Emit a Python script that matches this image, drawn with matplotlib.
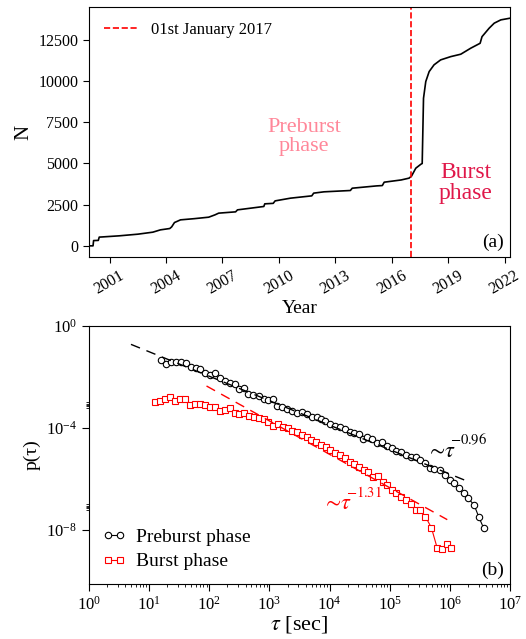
import numpy as np
import matplotlib
matplotlib.use("Agg")
import matplotlib.pyplot as plt
from matplotlib.ticker import LogLocator, FixedLocator, LogFormatterMathtext, NullFormatter

plt.rcParams['font.family'] = ['Liberation Serif', 'DejaVu Serif']
plt.rcParams['mathtext.fontset'] = 'stix'

# ---------------- Panel (a) data: cumulative count N vs year ----------------
years_a = [1999.9, 2000.12, 2000.15, 2000.40, 2000.45, 2000.6, 2001.5, 2002.5, 2003.3, 2003.7,
           2004.2, 2004.3, 2004.45, 2004.77, 2005.5, 2006.27, 2006.6, 2006.8, 2007.7, 2007.8,
           2008.76, 2009.2, 2009.25, 2009.7, 2009.8, 2010.62, 2011.75, 2011.85, 2012.4, 2013.8,
           2013.9, 2015.2, 2015.5, 2015.6, 2016.5, 2016.92, 2017.05, 2017.28, 2017.55, 2017.62,
           2017.69, 2017.81, 2017.99, 2018.25, 2018.6, 2019.14, 2019.67, 2020.2, 2020.7, 2020.8,
           2021.18, 2021.45, 2021.8, 2022.28]
N_a = [0, 0, 320, 330, 530, 540, 607, 708, 830, 970,
       1052, 1150, 1415, 1578, 1650, 1740, 1880, 1985, 2064, 2185,
       2325, 2390, 2550, 2580, 2730, 2895, 3035, 3200, 3280, 3360,
       3500, 3640, 3660, 3865, 4000, 4110, 4230, 4715, 4955, 5000,
       8960, 9975, 10580, 10990, 11290, 11490, 11635, 12000, 12300, 12700,
       13215, 13520, 13720, 13820]
year_ticks = [2001, 2004, 2007, 2010, 2013, 2016, 2019, 2022]
burst_start = 2017.0

# ---------------- Panel (b) data: waiting time distributions ----------------
log_tau_pre = [1.198, 1.281, 1.359, 1.442, 1.531, 1.608, 1.692, 1.775, 1.852, 1.930,
               2.013, 2.097, 2.180, 2.263, 2.346, 2.429, 2.501, 2.585, 2.651, 2.734,
               2.818, 2.901, 2.984, 3.056, 3.123, 3.206, 3.289, 3.372, 3.455, 3.539,
               3.622, 3.705, 3.788, 3.855, 3.927, 4.010, 4.093, 4.176, 4.249, 4.332,
               4.409, 4.481, 4.554, 4.620, 4.703, 4.786, 4.870, 4.953, 5.036, 5.108,
               5.191, 5.275, 5.352, 5.435, 5.507, 5.591, 5.674, 5.740, 5.829, 5.912,
               5.996, 6.073, 6.145, 6.229, 6.301, 6.400, 6.480, 6.560]
log_p_pre = [-1.333, -1.503, -1.399, -1.425, -1.425, -1.438, -1.595, -1.660, -1.686, -1.856,
             -1.922, -1.856, -2.052, -2.157, -2.248, -2.288, -2.484, -2.444, -2.680, -2.706,
             -2.745, -2.876, -2.902, -2.876, -3.137, -3.190, -3.255, -3.320, -3.399, -3.359,
             -3.451, -3.556, -3.582, -3.634, -3.712, -3.843, -3.922, -3.974, -4.052, -4.144,
             -4.209, -4.248, -4.444, -4.340, -4.444, -4.575, -4.536, -4.706, -4.797, -4.889,
             -4.928, -5.059, -5.150, -5.124, -5.255, -5.386, -5.582, -5.621, -5.647, -5.843,
             -6.039, -6.170, -6.366, -6.562, -6.758, -7.020, -7.503, -7.935]

log_tau_burst = [1.098, 1.181, 1.265, 1.348, 1.431, 1.514, 1.597, 1.681, 1.764, 1.847,
                 1.930, 2.013, 2.097, 2.180, 2.263, 2.346, 2.429, 2.501, 2.585, 2.668,
                 2.745, 2.829, 2.901, 2.984, 3.056, 3.139, 3.217, 3.300, 3.378, 3.455,
                 3.539, 3.622, 3.694, 3.777, 3.855, 3.932, 4.010, 4.093, 4.176, 4.249,
                 4.332, 4.409, 4.481, 4.565, 4.637, 4.720, 4.803, 4.881, 4.953, 5.036,
                 5.108, 5.191, 5.275, 5.352, 5.435, 5.507, 5.591, 5.690, 5.785, 5.868,
                 5.951, 6.023]
log_p_burst = [-2.993, -2.928, -2.863, -2.771, -2.941, -2.863, -2.863, -3.098, -3.072, -3.072,
               -3.098, -3.190, -3.163, -3.320, -3.294, -3.229, -3.399, -3.451, -3.425, -3.529,
               -3.556, -3.621, -3.660, -3.752, -3.922, -3.843, -3.974, -4.013, -4.118, -4.144,
               -4.275, -4.366, -4.471, -4.536, -4.667, -4.732, -4.863, -4.967, -5.059, -5.190,
               -5.320, -5.425, -5.516, -5.647, -5.739, -5.908, -5.882, -6.105, -6.235, -6.431,
               -6.536, -6.693, -6.824, -6.980, -7.216, -7.216, -7.477, -7.908, -8.693, -8.745,
               -8.549, -8.719]

# power-law fits (exponent, prefactor, tau range)
exp_pre, amp_pre, fit_range_pre = -0.96, 0.885, (5.0, 2.0e6)
exp_burst, amp_burst, fit_range_burst = -1.31, 1.6, (9.0e1, 9.0e5)

# ---------------- Figure ----------------
fig = plt.figure(figsize=(5.26, 6.39), dpi=100)

# Panel (a)
ax1 = fig.add_axes([0.169, 0.598, 0.801, 0.391])
ax1.plot(years_a, N_a, color='black', lw=1.2)
ax1.axvline(burst_start, color='red', ls='--', lw=1.2, label='01st January 2017')
ax1.set_xlim(1999.9, 2022.3)
ax1.set_ylim(-670, 14500)
ax1.set_xticks(year_ticks)
ax1.set_yticks([0, 2500, 5000, 7500, 10000, 12500])
ax1.tick_params(axis='x', labelsize=11.5, rotation=30, direction='out', length=4)
ax1.tick_params(axis='y', labelsize=11.5, direction='out', length=4)
for lab in ax1.get_xticklabels():
    lab.set_ha('center')
ax1.set_xlabel('Year', fontsize=14, labelpad=2)
ax1.set_ylabel('N', fontsize=15, labelpad=4)
ax1.text(2011.35, 6600, 'Preburst\nphase', color='#ff8799', fontsize=16,
         ha='center', va='center', linespacing=1.0)
ax1.text(2019.95, 3800, 'Burst\nphase', color='#e0184a', fontsize=17,
         ha='center', va='center', linespacing=1.0)
ax1.text(0.985, 0.025, '(a)', transform=ax1.transAxes, fontsize=14, ha='right', va='bottom')
ax1.legend(loc='upper left', frameon=False, fontsize=12, handlelength=2.0,
           borderaxespad=0.5, bbox_to_anchor=(0.0, 1.0))

# Panel (b)
ax2 = fig.add_axes([0.169, 0.086, 0.801, 0.404])
tau_pre = 10.0 ** np.array(log_tau_pre)
p_pre = 10.0 ** np.array(log_p_pre)
tau_b = 10.0 ** np.array(log_tau_burst)
p_b = 10.0 ** np.array(log_p_burst)

ax2.plot(tau_pre, p_pre, color='black', lw=0.8, marker='o', ms=4.6, mfc='white',
         mec='black', mew=0.8, label='Preburst phase')
ax2.plot(tau_b, p_b, color='red', lw=0.8, marker='s', ms=4.2, mfc='white',
         mec='red', mew=0.8, label='Burst phase')

t_fit = np.array(fit_range_pre)
ax2.plot(t_fit, amp_pre * t_fit ** exp_pre, color='black', ls=(0, (7, 5)), lw=1.0)
t_fit = np.array(fit_range_burst)
ax2.plot(t_fit, amp_burst * t_fit ** exp_burst, color='red', ls=(0, (7, 5)), lw=1.0)

ax2.set_xscale('log')
ax2.set_yscale('log')
ax2.set_xlim(1, 1e7)
ax2.set_ylim(10 ** -10.12, 1)
ax2.xaxis.set_major_locator(FixedLocator([10.0 ** k for k in range(0, 8)]))
ax2.xaxis.set_major_formatter(LogFormatterMathtext())
ax2.xaxis.set_minor_locator(LogLocator(base=10, subs=np.arange(2, 10), numticks=20))
ax2.xaxis.set_minor_formatter(NullFormatter())
ax2.yaxis.set_major_locator(FixedLocator([1e-8, 1e-4, 1e0]))
ax2.yaxis.set_major_formatter(LogFormatterMathtext())
ax2.yaxis.set_minor_locator(FixedLocator([k * 1e-4 for k in (6, 7, 8, 9, 10)] +
                                         [k * 1e-8 for k in (6, 7, 8, 9, 10)]))
ax2.yaxis.set_minor_formatter(NullFormatter())
ax2.tick_params(which='major', labelsize=12, direction='out', length=5)
ax2.tick_params(which='minor', direction='out', length=2.5)
ax2.set_xlabel(r'$\tau$ [sec]', fontsize=16, labelpad=0)
ax2.set_ylabel('p(τ)', fontsize=14, labelpad=4)


def power_label(ax, x, y, expo, color):
    ax.text(x, y, r'$\sim\!\tau$', fontsize=16, color=color, ha='left', va='baseline')
    ax.annotate(r'$-%.2f$' % abs(expo), xy=(x, y), xytext=(17.5, 9.0),
                textcoords='offset points', fontsize=10.5, color=color,
                ha='left', va='baseline')


power_label(ax2, 4.0e5, 7.2e-6, exp_pre, 'black')
power_label(ax2, 7.5e3, 6.5e-8, exp_burst, 'red')
ax2.text(0.985, 0.02, '(b)', transform=ax2.transAxes, fontsize=14, ha='right', va='bottom')
ax2.legend(loc='lower left', frameon=False, fontsize=14, numpoints=2, handlelength=1.2,
           handletextpad=0.5, labelspacing=0.35, borderaxespad=0.3)

fig.savefig('out.png', dpi=100)
